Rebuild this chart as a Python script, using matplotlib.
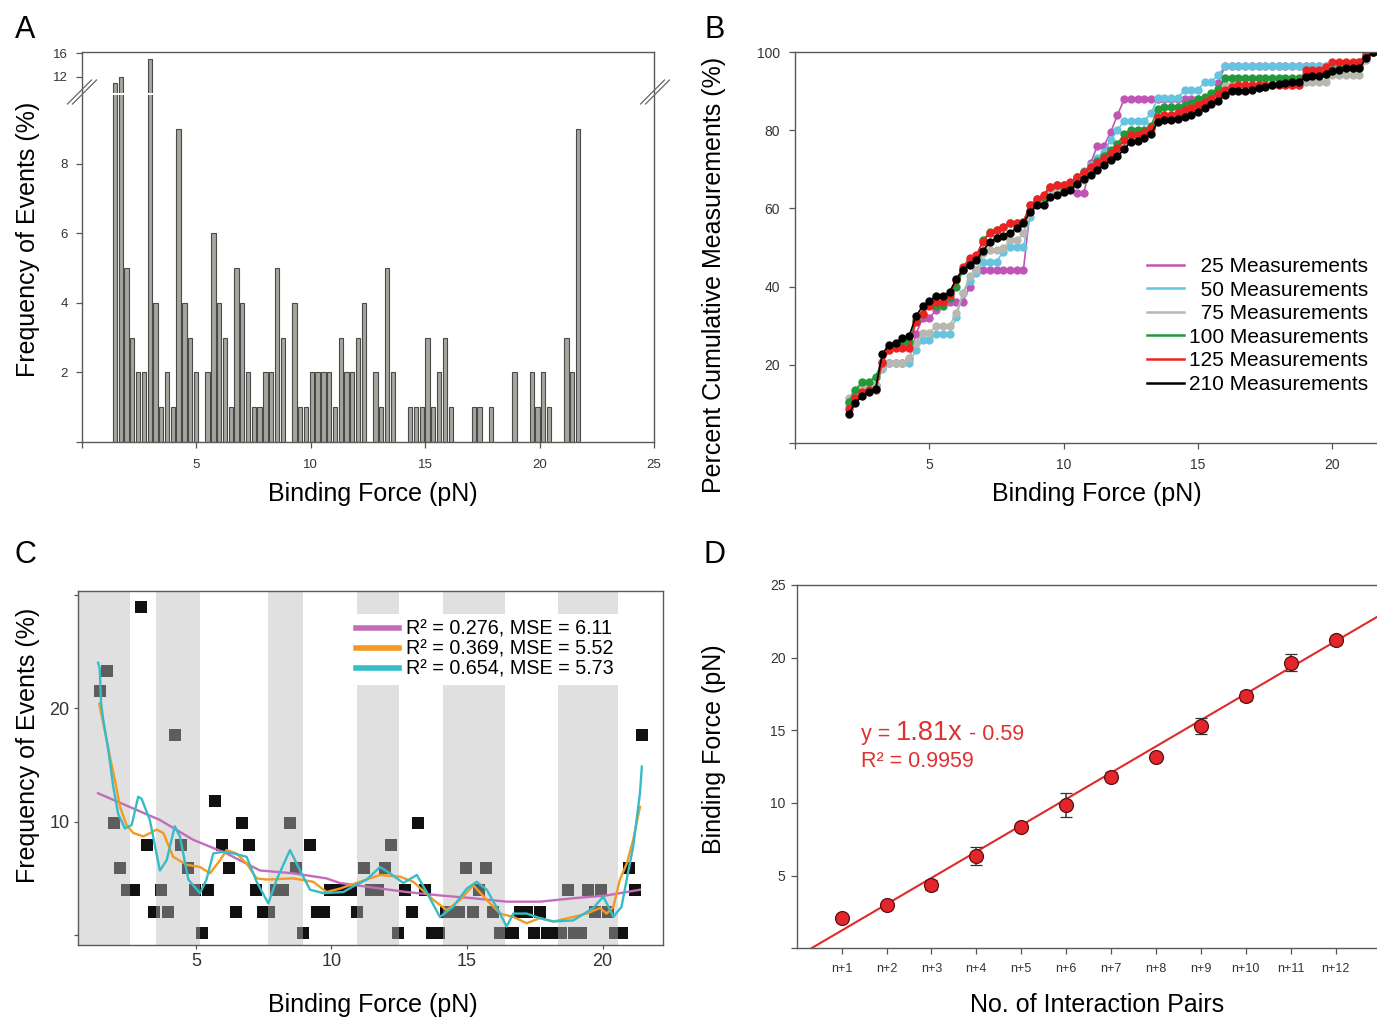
import numpy as np
import matplotlib
matplotlib.use("Agg")
import matplotlib.pyplot as plt
from matplotlib.lines import Line2D

plt.rcParams['font.family'] = ['Liberation Sans', 'DejaVu Sans']

W, H = 1377, 1018

# Panel A : counts per 0.25 pN bin
a_counts = [11, 12, 5, 3, 2, 2, 15, 4, 1, 2, 1, 9, 4, 3, 2, 0, 2, 6, 4, 3,
            1, 5, 4, 2, 1, 1, 2, 2, 5, 3, 0, 4, 1, 1, 2, 2, 2, 2, 1, 3,
            2, 2, 3, 4, 0, 2, 1, 5, 2, 0, 0, 1, 1, 1, 3, 1, 2, 3, 1, 0,
            0, 0, 1, 1, 0, 1, 0, 0, 0, 2, 0, 0, 2, 1, 2, 1, 0, 0, 3, 2, 9]
a_centers = 1.44 + 0.253 * np.arange(len(a_counts))

# Panel C : same bins as frequency (%)
c_freq = [21.5, 23.3, 9.9, 5.9, 4.0, 4.0, 28.9, 7.9, 2.0, 4.0, 2.0, 17.6, 7.9, 5.9, 4.0, 0.2, 4.0, 11.8, 7.9, 5.9,
          2.0, 9.9, 7.9, 4.0, 2.0, 2.0, 4.0, 4.0, 9.9, 5.9, 0.2, 7.9, 2.0, 2.0, 4.0, 4.0, 4.0, 4.0, 2.0, 5.9,
          4.0, 4.0, 5.9, 7.9, 0.2, 4.0, 2.0, 9.9, 4.0, 0.2, 0.2, 2.0, 2.0, 2.0, 5.9, 2.0, 4.0, 5.9, 2.0, 0.2,
          0.2, 0.2, 2.0, 2.0, 0.2, 2.0, 0.2, 0.2, 0.2, 4.0, 0.2, 0.2, 4.0, 2.0, 4.0, 2.0, 0.2, 0.2, 5.9, 4.0, 17.6]
c_centers = 1.46 + 0.25 * np.arange(len(c_freq))
c_bands = [(0.65, 2.55), (3.52, 5.15), (7.65, 8.95), (10.94, 12.49), (14.1, 16.4), (18.36, 20.57)]

fit1_x = [1.39, 3.67, 4.9, 6.13, 7.36, 8.59, 9.82, 10.3, 11.5, 12.77, 14.0, 15.23, 16.46, 17.69, 18.92, 20.15, 21.38]
fit1_y = [12.5, 10.15, 8.4, 7.2, 5.7, 5.45, 5.0, 4.6, 4.2, 3.8, 3.5, 3.25, 2.95, 2.95, 3.25, 3.5, 4.0]
fit2_x = [1.43, 1.58, 1.83, 2.01, 2.2, 2.44, 2.69, 3.06, 3.55, 3.8, 4.16, 4.66, 5.15, 5.52, 5.89, 6.13, 6.5,
          6.87, 7.24, 7.6, 8.59, 9.33, 9.82, 10.31, 11.05, 11.79, 12.53, 13.02, 13.76, 14.25, 14.74, 15.23,
          15.73, 16.22, 16.71, 17.2, 17.69, 18.18, 18.92, 19.42, 19.91, 20.15, 20.4, 20.64, 20.89, 21.13, 21.38]
fit2_y = [20.4, 18.7, 15.7, 13.7, 11.3, 9.7, 9.0, 8.7, 9.3, 9.0, 6.9, 6.2, 6.0, 5.45, 6.6, 7.5, 7.2,
          6.3, 5.0, 4.9, 5.0, 4.7, 3.8, 4.1, 4.7, 5.3, 5.15, 4.7, 3.1, 2.2, 3.1, 4.4,
          3.1, 1.9, 1.6, 1.05, 1.5, 1.2, 1.6, 1.9, 2.4, 1.9, 2.5, 4.9, 6.3, 8.4, 11.3]
fit3_x = [1.39, 1.45, 1.5, 1.58, 1.77, 1.95, 2.13, 2.38, 2.63, 2.87, 3.0, 3.3, 3.67, 3.92, 4.22, 4.41, 4.72,
          5.15, 5.39, 5.64, 6.01, 6.38, 6.87, 7.24, 7.67, 7.98, 8.47, 8.84, 9.21, 9.7, 10.44, 10.8, 11.3,
          11.79, 12.16, 12.65, 13.15, 13.51, 14.0, 14.49, 14.99, 15.36, 15.73, 16.22, 16.46, 16.71, 17.2,
          17.69, 18.18, 18.92, 19.66, 20.03, 20.4, 20.7, 20.89, 21.13, 21.38, 21.45]
fit3_y = [24.0, 23.5, 20.5, 19.0, 16.3, 13.1, 10.7, 9.4, 9.7, 12.2, 12.0, 10.15, 5.7, 6.6, 9.6, 8.7, 4.9,
          3.7, 4.9, 7.2, 7.35, 7.2, 6.9, 4.7, 2.8, 4.9, 7.5, 5.7, 4.0, 3.7, 3.8, 4.3, 4.9,
          6.0, 5.45, 4.6, 5.3, 3.8, 1.6, 2.5, 4.1, 4.7, 4.0, 1.9, 0.75, 1.9, 1.9,
          1.5, 1.2, 1.3, 2.4, 3.4, 1.6, 2.5, 4.9, 7.8, 12.5, 14.85]
fit_labels = ['R\u00b2 = 0.276, MSE = 6.11', 'R\u00b2 = 0.369, MSE = 5.52', 'R\u00b2 = 0.654, MSE = 5.73']
fit_colors = ['#c46cbc', '#f39a22', '#35bcc6']

# Panel B : cumulative percentages
b_force = 2.0 + 0.25 * np.arange(79)
b_25 = [10.5, 12.5, 14.0, 14.5, 14.8, 19.5, 20.4, 20.4, 20.4, 21.5,
        27.9, 31.9, 31.9, 34.0, 36.1, 36.1, 36.1, 36.1, 40.0, 44.2,
        44.2, 44.2, 44.2, 44.2, 44.2, 44.2, 44.2, 59.5, 61.0, 62.0,
        64.5, 65.0, 65.5, 65.5, 63.9, 63.9, 71.5, 76.0, 76.0, 79.5,
        83.9, 87.9, 87.9, 87.9, 87.9, 87.9, 87.9, 87.9, 87.9, 87.9,
        87.9, 87.9, 87.9, 87.9, 87.9, 92.0, 96.4, 96.4, 96.4, 96.4,
        96.4, 96.4, 96.4, 96.4, 96.4, 96.4, 96.4, 96.4, 96.4, 96.4,
        96.4, 96.4, 96.4, 96.4, 96.4, 96.4, 97.5, 99.5, 100.0]
b_50 = [9.5, 12.6, 13.9, 14.3, 14.7, 19.0, 20.4, 20.4, 20.4, 20.4,
        23.8, 26.3, 26.3, 27.9, 27.9, 27.9, 32.2, 38.3, 41.4, 43.5,
        46.4, 46.4, 46.4, 48.9, 50.2, 50.2, 50.2, 57.9, 61.0, 62.5,
        65.0, 65.9, 65.9, 66.5, 68.0, 69.5, 71.0, 73.0, 74.5, 77.5,
        80.0, 82.4, 82.4, 82.4, 82.4, 84.3, 88.2, 88.2, 88.2, 88.2,
        90.3, 90.3, 90.3, 92.4, 92.4, 94.1, 96.4, 96.4, 96.4, 96.4,
        96.4, 96.4, 96.4, 96.4, 96.4, 96.4, 96.4, 96.4, 96.4, 96.4,
        96.4, 96.4, 96.4, 96.4, 96.4, 96.4, 97.5, 99.5, 100.0]
b_75 = [11.5, 13.1, 14.0, 14.4, 14.8, 19.2, 20.4, 20.4, 20.4, 21.7,
        25.6, 28.2, 28.2, 29.9, 29.9, 29.9, 33.3, 38.3, 42.6, 44.2,
        48.5, 49.3, 49.3, 49.8, 51.9, 51.9, 53.6, 58.7, 61.3, 61.3,
        63.8, 64.2, 64.2, 65.6, 66.4, 67.3, 69.0, 70.2, 71.5, 73.0,
        74.5, 76.5, 78.0, 78.5, 79.0, 80.0, 83.5, 84.0, 84.0, 84.5,
        85.0, 86.0, 87.0, 87.5, 88.5, 90.0, 91.6, 91.6, 91.6, 91.6,
        91.6, 91.6, 91.6, 91.6, 91.6, 91.6, 91.6, 91.6, 92.3, 92.3,
        92.3, 92.3, 94.0, 94.0, 94.0, 94.0, 94.0, 98.0, 100.0]
b_100 = [10.6, 13.6, 15.7, 15.7, 17.0, 20.8, 24.2, 24.6, 25.1, 25.9,
         31.5, 33.1, 35.4, 35.0, 35.0, 37.0, 40.0, 44.2, 46.8, 47.6,
         51.9, 54.0, 54.6, 55.3, 56.2, 56.2, 56.6, 60.8, 62.5, 63.0,
         65.6, 65.9, 65.9, 66.4, 68.1, 69.4, 70.7, 72.0, 73.5, 75.0,
         76.5, 79.0, 80.1, 80.1, 80.1, 81.0, 85.5, 86.0, 86.0, 86.0,
         86.5, 87.0, 88.0, 88.6, 89.5, 90.5, 93.3, 93.3, 93.3, 93.3,
         93.3, 93.3, 93.3, 93.3, 93.3, 93.3, 93.3, 93.3, 94.5, 94.5,
         94.5, 94.5, 95.5, 96.0, 96.0, 96.0, 96.0, 99.0, 100.0]
b_125 = [8.8, 11.4, 13.1, 13.5, 13.5, 20.4, 23.8, 24.2, 24.2, 24.2,
         31.0, 33.1, 35.0, 36.1, 36.1, 37.8, 41.6, 45.1, 47.2, 48.1,
         51.5, 53.8, 54.6, 55.3, 56.2, 56.2, 56.6, 60.8, 62.5, 63.5,
         65.6, 65.9, 65.9, 66.8, 68.1, 69.4, 70.7, 71.7, 72.8, 74.1,
         75.4, 77.5, 78.8, 78.8, 79.6, 80.5, 83.5, 83.9, 83.9, 84.3,
         85.2, 85.8, 86.4, 87.3, 88.1, 89.2, 90.3, 91.1, 91.6, 91.6,
         91.6, 91.6, 91.6, 91.6, 91.6, 91.6, 91.6, 91.6, 95.4, 95.4,
         95.4, 96.2, 97.5, 97.5, 97.5, 97.5, 97.5, 99.2, 100.0]
b_210 = [7.4, 10.3, 12.0, 13.1, 13.9, 22.8, 25.1, 25.7, 26.8, 27.4,
         32.4, 35.0, 36.4, 37.5, 37.5, 38.6, 41.9, 44.2, 45.6, 46.7,
         49.2, 51.3, 52.4, 53.0, 53.8, 54.9, 56.3, 59.0, 60.8, 60.8,
         62.8, 63.5, 64.1, 64.8, 66.3, 67.5, 68.5, 69.8, 71.1, 72.3,
         73.4, 75.1, 77.1, 77.3, 78.1, 79.0, 82.2, 82.6, 82.6, 82.9,
         83.4, 84.0, 84.7, 85.6, 86.6, 87.5, 88.9, 89.9, 90.0, 90.0,
         90.3, 90.7, 91.1, 91.6, 91.8, 92.0, 92.2, 92.2, 93.7, 93.9,
         93.9, 94.3, 95.1, 95.4, 95.8, 95.8, 95.8, 98.4, 100.0]
b_series = [b_25, b_50, b_75, b_100, b_125, b_210]
b_labels = ['25 Measurements', '50 Measurements', '75 Measurements',
            '100 Measurements', '125 Measurements', '210 Measurements']
b_colors = ['#c155b5', '#66c4e0', '#b8b8b0', '#23993a', '#ee2222', '#000000']

# Panel D
d_pairs = ['n+1', 'n+2', 'n+3', 'n+4', 'n+5', 'n+6', 'n+7', 'n+8', 'n+9', 'n+10', 'n+11', 'n+12']
d_force = [2.1, 2.98, 4.36, 6.35, 8.37, 9.86, 11.81, 13.19, 15.3, 17.39, 19.66, 21.2]
d_err = [0.2, 0.15, 0.37, 0.6, 0.25, 0.83, 0.3, 0.2, 0.55, 0.35, 0.6, 0.15]
d_slope, d_icept = 1.81, -0.59


def box(l, t, r, b):
    return [l / W, 1 - b / H, (r - l) / W, (b - t) / H]


def ftext(x, y, s, **kw):
    fig.text(x / W, 1 - y / H, s, **kw)


def style(ax, size, pad):
    ax.tick_params(direction='out', length=4, width=0.9, color='#555555',
                   labelcolor='#333333', labelsize=size, pad=pad)
    for sp in ax.spines.values():
        sp.set_color('#5a5a5a')
        sp.set_linewidth(1.0)


fig = plt.figure(figsize=(W / 100, H / 100), dpi=100)

# ---------------- A (broken y axis)
axA_top = fig.add_axes(box(82, 52, 654, 93))
axA = fig.add_axes(box(82, 95, 654, 442))
for ax in (axA_top, axA):
    ax.bar(a_centers, a_counts, width=0.19, color='#a6a69e', edgecolor='#4a4a4a', linewidth=0.8)
    ax.set_xlim(0, 25)
    style(ax, 9.5, 6)
axA_top.set_ylim(9.33, 16.17)
axA.set_ylim(0, 9.97)
axA_top.spines['bottom'].set_visible(False)
axA.spines['top'].set_visible(False)
axA_top.set_xticks([])
axA_top.set_yticks([12, 16])
axA.set_yticks([0, 2, 4, 6, 8], ['', '2', '4', '6', '8'])
axA.set_xticks([0, 5, 10, 15, 20, 25], ['', '5', '10', '15', '20', '25'])
axA.tick_params(axis='x', pad=8)
for cx in (82, 655):
    for dx in (-2.5, 2.5):
        fig.add_artist(Line2D([(cx - 12 + dx) / W, (cx + 12 + dx) / W],
                              [1 - 104 / H, 1 - 80 / H], color='#666666', lw=0.9))
ftext(373, 494, 'Binding Force (pN)', fontsize=18, ha='center', va='center')
ftext(28, 239, 'Frequency of Events (%)', fontsize=18, ha='center', va='center', rotation=90)
ftext(25, 30, 'A', fontsize=22, ha='center', va='center')

# ---------------- B
axB = fig.add_axes(box(795, 52, 795 + 26.87 * 22.5, 443))
for vals, col in zip(b_series, b_colors):
    axB.plot(b_force, vals, '-o', color=col, lw=1.2, ms=5, mec=col)
axB.set_xlim(0, 22.5)
axB.set_ylim(0, 100)
style(axB, 10, 7)
axB.spines['right'].set_visible(False)
axB.set_xticks([0, 5, 10, 15, 20], ['', '5', '10', '15', '20'])
axB.set_yticks([0, 20, 40, 60, 80, 100], ['', '20', '40', '60', '80', '100'])
handles = [Line2D([], [], color=c, lw=1.8) for c in b_colors]
labels = [('\u2007' + s if len(s.split()[0]) == 2 else s) for s in b_labels]
fig.legend(handles, labels, loc='upper right', bbox_to_anchor=(1368 / W, 1 - 257 / H),
           frameon=False, fontsize=15, handlelength=1.8, handletextpad=0.2,
           labelspacing=0.22, borderpad=0, borderaxespad=0)
ftext(1097, 494, 'Binding Force (pN)', fontsize=18, ha='center', va='center')
ftext(714, 275, 'Percent Cumulative Measurements (%)', fontsize=18, ha='center', va='center', rotation=90)
ftext(715, 30, 'B', fontsize=22, ha='center', va='center')

# ---------------- C
axC = fig.add_axes(box(78, 591, 663, 945))
axC.scatter(c_centers, c_freq, marker='s', s=64, color='#111111', linewidths=0, zorder=2)
for lo, hi in c_bands:
    axC.axvspan(lo, hi, color='#bbbbbb', alpha=0.45, lw=0, zorder=2.2)
for fx, fy, col, lab in zip([fit1_x, fit2_x, fit3_x], [fit1_y, fit2_y, fit3_y], fit_colors, fit_labels):
    axC.plot(fx, fy, color=col, lw=1.7, zorder=3, label=lab)
axC.set_xlim(0.65, 22.23)
axC.set_ylim(-0.87, 30.33)
style(axC, 13, 3)
axC.tick_params(length=3)
axC.set_xticks([5, 10, 15, 20])
axC.set_yticks([0, 10, 20, 30], ['', '10', '20', ''])
legC = axC.legend(loc='upper left', bbox_to_anchor=(350 / W, 1 - 614 / H), bbox_transform=fig.transFigure,
                  fontsize=14.2, handlelength=2.2, handletextpad=0.35, labelspacing=0.05,
                  borderpad=0.3, borderaxespad=0, frameon=True, fancybox=False)
legC.get_frame().set_facecolor('white')
legC.get_frame().set_edgecolor('none')
legC.get_frame().set_alpha(1)
for ln in legC.get_lines():
    ln.set_linewidth(4)
ftext(373, 1005, 'Binding Force (pN)', fontsize=18, ha='center', va='center')
ftext(28, 745, 'Frequency of Events (%)', fontsize=18, ha='center', va='center', rotation=90)
ftext(25, 555, 'C', fontsize=22, ha='center', va='center')

# ---------------- D
axD = fig.add_axes(box(796.7, 585, 796.7 + 44.9 * 13.5, 948.3))
xs = np.arange(1, len(d_pairs) + 1)
axD.axline((0, d_icept), slope=d_slope, color='#e02a2a', lw=1.5, zorder=2)
axD.errorbar(xs, d_force, yerr=d_err, fmt='o', ms=10, mfc='#e3262b', mec='#5a1010', mew=0.9,
             ecolor='#333333', elinewidth=1.1, capsize=4, capthick=1.1, zorder=3)
axD.set_xlim(0, 13.5)
axD.set_ylim(0, 25)
style(axD, 10, 4)
axD.spines['right'].set_visible(False)
axD.set_xticks(xs, d_pairs)
axD.tick_params(axis='x', labelsize=9, pad=6.5)
axD.set_yticks([0, 5, 10, 15, 20, 25], ['', '5', '10', '15', '20', '25'])
t1 = axD.text(1.43, 14.3, 'y =', fontsize=15.5, color='#e03030', va='baseline')
t2 = axD.annotate('1.81x', xy=(1, 14.3), xycoords=(t1, 'data'), xytext=(4, 0),
                  textcoords='offset points', fontsize=19.5, color='#e03030', va='baseline')
axD.annotate('- 0.59', xy=(1, 14.3), xycoords=(t2, 'data'), xytext=(5, 0),
             textcoords='offset points', fontsize=15.5, color='#e03030', va='baseline')
axD.text(1.43, 12.5, 'R\u00b2 = 0.9959', fontsize=15.5, color='#e03030', va='baseline')
ftext(1097, 1005, 'No. of Interaction Pairs', fontsize=18, ha='center', va='center')
ftext(714, 749, 'Binding Force (pN)', fontsize=18, ha='center', va='center', rotation=90)
ftext(715, 555, 'D', fontsize=22, ha='center', va='center')

fig.savefig('out.png', dpi=100)
